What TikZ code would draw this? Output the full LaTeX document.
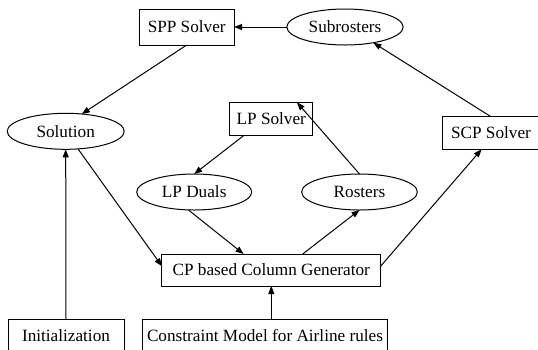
\documentclass[tikz,border=0pt]{standalone}
\usepackage{fontspec}
\setmainfont{Liberation Serif}
\newfontfamily\diagfont{Liberation Serif}
\usetikzlibrary{shapes.geometric,arrows.meta}
\begin{document}
\begin{tikzpicture}[x=1pt,y=-1pt,
  every node/.style={inner sep=0pt,outer sep=0pt,font=\diagfont\fontsize{17.2}{20}\selectfont},
  boxnode/.style={draw,line width=1pt,rectangle},
  ellnode/.style={draw,line width=1pt,ellipse},
  arr/.style={line width=1pt,-{Triangle[length=8pt,width=6pt]}}]
\useasboundingbox (0,0) rectangle (538,349);
\node[boxnode,minimum width=94.7pt,minimum height=36pt] (spp) at (186.7,27) {SPP Solver};
\node[ellnode,minimum width=116.3pt,minimum height=36pt] (sub) at (345,27) {Subrosters};
\node[ellnode,minimum width=117pt,minimum height=36pt] (sol) at (65.7,131.3) {Solution};
\node[boxnode,minimum width=82.7pt,minimum height=33.3pt] (lps) at (271.3,119) {LP Solver};
\node[boxnode,minimum width=97pt,minimum height=32.6pt] (scp) at (491,133) {SCP Solver};
\node[ellnode,minimum width=115pt,minimum height=36pt] (ld) at (194.2,192) {LP Duals};
\node[ellnode,minimum width=115.7pt,minimum height=36pt] (ros) at (359.5,192) {Rosters};
\node[boxnode,minimum width=218.7pt,minimum height=32pt] (cp) at (271.3,270) {CP based Column Generator};
\node[boxnode,minimum width=116pt,minimum height=33pt] (init) at (66,335.5) {Initialization};
\node[boxnode,minimum width=244.7pt,minimum height=33pt] (cons) at (265,335.5) {Constraint Model for Airline rules};

\draw[arr] (sub.west) -- (spp.east);
\draw[arr] (spp.south) -- (sol.47);
\draw[arr] (scp.north) -- (sub.-29);
\draw[arr] (lps.211) -- (ld.north);
\draw[arr] (ros.north) -- (lps.33);
\draw[arr] (sol.-55) -- (cp.178);
\draw[arr] (ld.252) -- (cp.150);
\draw[arr] (cp.27) -- (ros.south);
\draw[arr] (cp.2) -- (scp.240);
\draw[arr] (init.north) -- (sol.south);
\draw[arr] (cons.north -| cp.south) -- (cp.south);
\end{tikzpicture}
\end{document}
